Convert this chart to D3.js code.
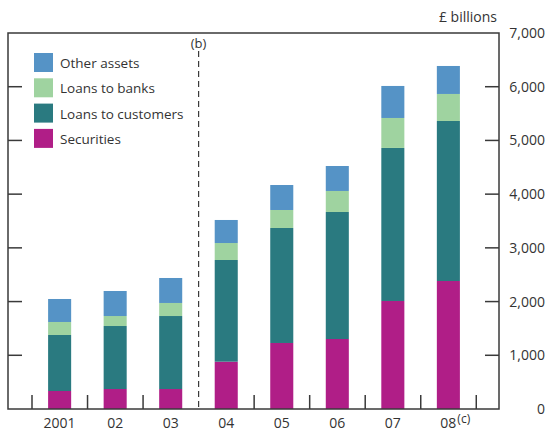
<!DOCTYPE html>
<html><head><meta charset="utf-8">
<script src="https://cdn.jsdelivr.net/npm/d3@7"></script>
<style>body{margin:0;background:#fff}svg{display:block;font-family:"Open Sans",sans-serif}</style>
</head><body><svg id="c" width="547" height="432"></svg>
<script>
const years = ["2001","02","03","04","05","06","07","08"];
const securities = [335, 372, 372, 881, 1229, 1303, 2011, 2383];
const loansCustomers = [1043, 1173, 1359, 1893, 2141, 2365, 2849, 2979];
const loansBanks = [242, 186, 243, 316, 335, 391, 558, 503];
const otherAssets = [428, 466, 465, 429, 465, 465, 596, 521];
const seriesNames = ["Securities","Loans to customers","Loans to banks","Other assets"];
const colors = ["#B01E87","#2A7A80","#9FD3A0","#5593C6"];
const yTicks = [0,1000,2000,3000,4000,5000,6000,7000];

const svg = d3.select("#c");
const L=8, R=499, T=33, B=409;
const x = d3.scaleBand().domain(years).range([32,476]).paddingInner(0.585).paddingOuter(0.29);
const y = d3.scaleLinear().domain([0,7000]).range([B,T]);
const rows = years.map((yr,i)=>({year:yr,"Securities":securities[i],"Loans to customers":loansCustomers[i],"Loans to banks":loansBanks[i],"Other assets":otherAssets[i]}));
const stack = d3.stack().keys(seriesNames)(rows);

svg.append("g").selectAll("g").data(stack).join("g").attr("fill",(d,i)=>colors[i])
 .selectAll("rect").data(d=>d).join("rect")
 .attr("x",d=>x(d.data.year)).attr("width",x.bandwidth())
 .attr("y",d=>y(d[1])).attr("height",d=>y(d[0])-y(d[1]));

const ink="#3a3a3a";
svg.append("rect").attr("x",L).attr("y",T).attr("width",R-L).attr("height",B-T).attr("fill","none").attr("stroke",ink).attr("stroke-width",1.5);
yTicks.slice(1,-1).forEach(v=>{
  svg.append("line").attr("x1",L).attr("x2",L+14).attr("y1",y(v)).attr("y2",y(v)).attr("stroke",ink).attr("stroke-width",1.5);
  svg.append("line").attr("x1",R-14).attr("x2",R).attr("y1",y(v)).attr("y2",y(v)).attr("stroke",ink).attr("stroke-width",1.5);
});
const fmt = d3.format(",");
svg.append("g").selectAll("text").data(yTicks).join("text")
 .attr("x",545).attr("y",d=>y(d)+5).attr("text-anchor","end")
 .attr("font-size",14).attr("fill","#333").text(d=>fmt(d));
svg.append("text").attr("x",497).attr("y",22).attr("text-anchor","end").attr("font-size",14).attr("fill","#333").text("£ billions");

const step = x.step();
const bounds = d3.range(years.length+1).map(i=>32+i*step);
bounds.forEach((bx,i)=>{
  if(i===3) return;
  svg.append("line").attr("x1",bx).attr("x2",bx).attr("y1",B-14).attr("y2",B).attr("stroke",ink).attr("stroke-width",1.5);
});
svg.append("line").attr("x1",bounds[3]).attr("x2",bounds[3]).attr("y1",51).attr("y2",B).attr("stroke",ink).attr("stroke-width",1.2).attr("stroke-dasharray","6,4");
svg.append("text").attr("x",bounds[3]).attr("y",48).attr("text-anchor","middle").attr("font-size",13).attr("fill","#333").text("(b)");

svg.append("g").selectAll("text").data(years).join("text")
 .attr("x",d=>x(d)+x.bandwidth()/2).attr("y",428).attr("text-anchor","middle")
 .attr("font-size",14).attr("fill","#333").text(d=>d);
svg.append("text").attr("x",x("08")+x.bandwidth()/2+9).attr("y",423).attr("font-size",12).attr("fill","#333").text("(c)");

const leg = ["Other assets","Loans to banks","Loans to customers","Securities"];
const legColors = ["#5593C6","#9FD3A0","#2A7A80","#B01E87"];
leg.forEach((n,i)=>{
  const yy = 53 + i*25.3;
  svg.append("rect").attr("x",34).attr("y",yy).attr("width",19).attr("height",19).attr("fill",legColors[i]);
  svg.append("text").attr("x",60).attr("y",yy+15).attr("font-size",13.5).attr("fill","#333").text(n);
});
</script></body></html>
